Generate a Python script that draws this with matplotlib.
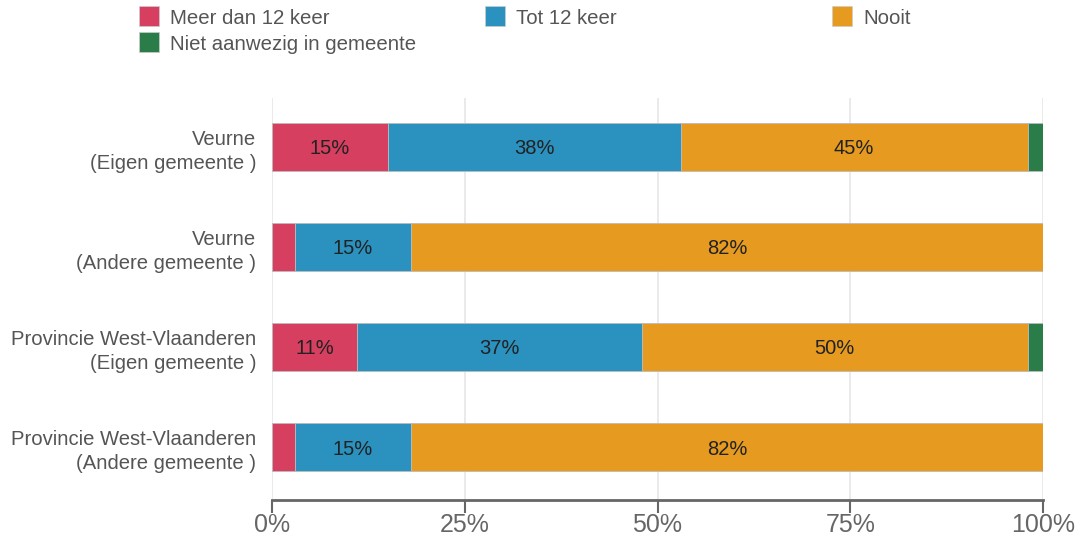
import numpy as np
import matplotlib.pyplot as plt
from matplotlib.patches import Rectangle

plt.rcParams['font.family'] = ['Liberation Sans', 'DejaVu Sans']

# Data
categories = ["Veurne\n(Eigen gemeente )", "Veurne\n(Andere gemeente )",
              "Provincie West-Vlaanderen\n(Eigen gemeente )",
              "Provincie West-Vlaanderen\n(Andere gemeente )"]
series = ["Meer dan 12 keer", "Tot 12 keer", "Nooit", "Niet aanwezig in gemeente"]
meer = [15, 3, 11, 3]
tot = [38, 15, 37, 15]
nooit = [45, 82, 50, 82]
niet = [2, 0, 2, 0]
colors = ["#d63f60", "#2b91bf", "#e69a20", "#2a7d48"]
ticks = [0, 25, 50, 75, 100]

fig = plt.figure(figsize=(10.8, 5.38), dpi=100)
ax = fig.add_axes([272 / 1080, 1 - 500 / 538, (1043 - 272) / 1080, (500 - 98) / 538])

y = np.arange(len(categories))
left = np.zeros(len(categories))
for vals, col in zip([meer, tot, nooit, niet], colors):
    vals = np.array(vals, dtype=float)
    bars = ax.barh(y, vals, left=left, height=0.48, color=col,
                   edgecolor="#bbbbbb", linewidth=0.6, zorder=3)
    for b, v in zip(bars, vals):
        if v >= 5:
            ax.text(b.get_x() + b.get_width() / 2, b.get_y() + b.get_height() / 2,
                    f"{v:.0f}%", ha="center", va="center_baseline", fontsize=14.5,
                    color="#222222", zorder=4)
    left += vals

ax.set_xlim(0, 100)
ax.set_ylim(3.53, -0.49)
ax.set_yticks(y)
ax.set_yticklabels(categories, fontsize=14.6, color="#555555", linespacing=1.32)
ax.set_xticks(ticks)
ax.set_xticklabels([f"{t}%" for t in ticks], fontsize=18, color="#666666")
ax.tick_params(axis="y", length=0, pad=11.5)
ax.tick_params(axis="x", length=9, width=1.5, color="#666666", pad=0)
for t in ticks:
    ax.axvline(t, color="#e6e6e6", linewidth=1.2, zorder=1)
for s in ["top", "right", "left"]:
    ax.spines[s].set_visible(False)
ax.spines["bottom"].set_color("#666666")
ax.spines["bottom"].set_linewidth(2)

# Legend laid out row by row
leg_pos = [(139, 6), (485, 6), (832, 6), (139, 32)]
for (px, py), name, col in zip(leg_pos, series, colors):
    fig.patches.append(Rectangle((px / 1080, 1 - (py + 20) / 538), 20 / 1080, 20 / 538,
                                 transform=fig.transFigure, facecolor=col,
                                 edgecolor="#cccccc", linewidth=0.5))
    fig.text((px + 31) / 1080, 1 - (py + 11) / 538, name, fontsize=14.7,
             color="#555555", va="center_baseline", ha="left")

fig.savefig("out.png", dpi=100)
